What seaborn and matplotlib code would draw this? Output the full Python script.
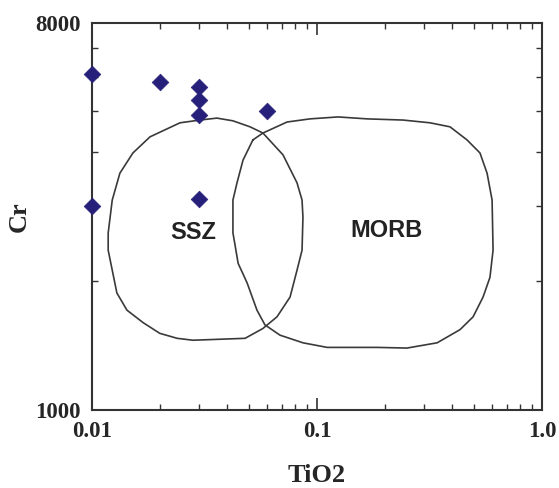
import matplotlib
matplotlib.use("Agg")
import matplotlib.pyplot as plt
from matplotlib.ticker import LogLocator, NullFormatter, FixedLocator, FixedFormatter
import seaborn as sns

# Cr-spinel samples
tio2 = [0.01, 0.01, 0.02, 0.03, 0.03, 0.03, 0.03, 0.06]
cr = [6080, 2990, 5840, 5680, 5290, 4880, 3100, 5000]

# SSZ field boundary
ssz_x = [0.0302, 0.0359, 0.0423, 0.0504, 0.0575, 0.0706, 0.0815, 0.0858, 0.0866, 0.0858,
         0.0815, 0.0759, 0.0664, 0.0575, 0.0479, 0.0281, 0.0239, 0.0200, 0.01685, 0.0143,
         0.0129, 0.0123, 0.0118, 0.0118, 0.0123, 0.0133, 0.0152, 0.0181, 0.0246, 0.0302]
ssz_y = [4750, 4800, 4730, 4580, 4430, 3940, 3390, 3090, 2820, 2360,
         2120, 1835, 1650, 1550, 1470, 1455, 1470, 1510, 1600, 1710,
         1875, 2120, 2360, 2590, 3090, 3570, 3980, 4340, 4680, 4750]

# MORB field boundary
morb_x = [0.0519, 0.0575, 0.0736, 0.0931, 0.124, 0.167, 0.241, 0.318, 0.390, 0.464,
          0.530, 0.570, 0.600, 0.606, 0.587, 0.547, 0.494, 0.432, 0.342, 0.251,
          0.185, 0.140, 0.111, 0.0866, 0.0685, 0.0587, 0.0541, 0.0489, 0.0446, 0.0432,
          0.0423, 0.0423, 0.0441, 0.0469, 0.0519]
morb_y = [4270, 4430, 4700, 4780, 4830, 4780, 4750, 4680, 4580, 4270,
          3980, 3570, 3090, 2360, 2040, 1835, 1650, 1540, 1435, 1395,
          1400, 1400, 1400, 1435, 1495, 1580, 1710, 1980, 2200, 2430,
          2590, 3090, 3390, 3830, 4270]

fields = [("SSZ", 0.0281, 2600), ("MORB", 0.203, 2630)]

x_ticks = [0.01, 0.1, 1.0]
x_labels = ["0.01", "0.1", "1.0"]
y_ticks = [1000, 8000]
y_labels = ["1000", "8000"]
y_minor = [2000, 3000, 4000, 5000, 6000, 7000]

sns.set_style("ticks")
plt.rcParams['font.family'] = ['Liberation Serif', 'DejaVu Serif']

fig = plt.figure(figsize=(5.59, 4.88), dpi=100)
ax = fig.add_axes([0.1646, 0.1598, 0.805, 0.793])

sns.scatterplot(x=tio2, y=cr, marker="D", s=72, color="#27207a",
                edgecolor="#27207a", linewidth=0.5, ax=ax, zorder=5, clip_on=False)
ax.set_xscale("log")
ax.set_yscale("log")
ax.set_xlim(0.01, 1.0)
ax.set_ylim(1000, 8000)

# field outlines
ax.plot(ssz_x, ssz_y, color="#3a3a3a", lw=1.2)
ax.plot(morb_x, morb_y, color="#3a3a3a", lw=1.2)

for sp in ax.spines.values():
    sp.set_linewidth(1.5)
    sp.set_color("#333333")

# ticks: log axes, labels only at the ends
ax.xaxis.set_major_locator(FixedLocator(x_ticks))
ax.xaxis.set_major_formatter(FixedFormatter(x_labels))
ax.xaxis.set_minor_locator(LogLocator(base=10, subs=range(2, 10)))
ax.xaxis.set_minor_formatter(NullFormatter())
ax.tick_params(which="both", direction="in", top=True, right=True, color="#333333")
ax.tick_params(which="major", length=8.5, width=1.2, labelsize=16.5, pad=8)
ax.tick_params(which="minor", length=4.5, width=1.0)

ax.yaxis.set_major_locator(FixedLocator(y_ticks))
ax.yaxis.set_major_formatter(FixedFormatter(y_labels))
ax.yaxis.set_minor_locator(FixedLocator(y_minor))
ax.yaxis.set_minor_formatter(NullFormatter())

for name, fx, fy in fields:
    ax.text(fx, fy, name, ha="center", va="center", fontsize=17,
            fontweight="bold", family="Liberation Sans", color="#222222")

ax.set_xlabel("TiO2", fontsize=19, fontweight="bold", labelpad=16)
ax.set_ylabel("Cr", fontsize=19, fontweight="bold", labelpad=3)
plt.setp(ax.get_xticklabels() + ax.get_yticklabels(), fontweight="bold")

fig.savefig("out.png", dpi=100)
